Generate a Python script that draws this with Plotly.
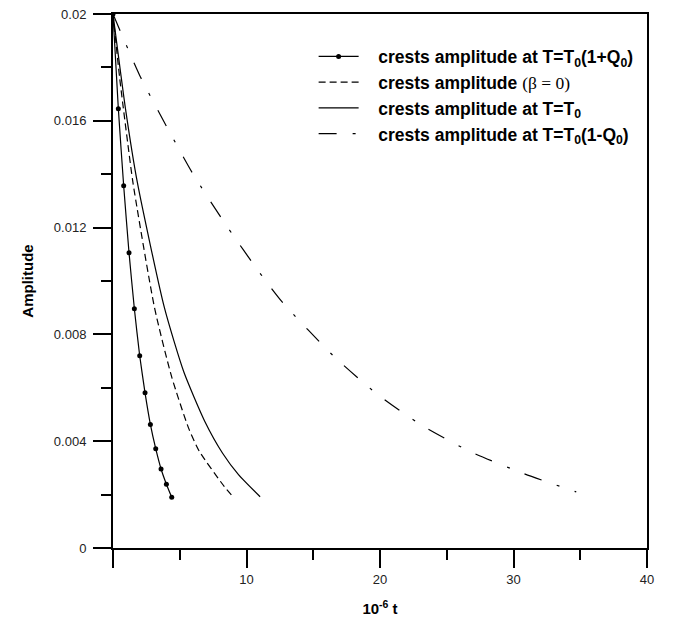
import plotly.graph_objects as go

# Crest amplitude at T = T0(1+Q0)  (dotted markers)
t_hot = [0.0, 0.4, 0.8, 1.2, 1.6, 2.0, 2.4, 2.8, 3.2, 3.6, 4.0, 4.4]
a_hot = [0.0200, 0.01645, 0.01357, 0.01106, 0.00896, 0.00720, 0.00581,
         0.00463, 0.00372, 0.00296, 0.00239, 0.00190]

# Crest amplitude (beta = 0)  (dashed)
t_beta0 = [0.0, 0.5, 1.12, 1.49, 3.11, 4.4, 5.67, 6.47, 8.34, 9.03]
a_beta0 = [0.0200, 0.0176, 0.0151, 0.0137, 0.0090, 0.0064, 0.00448, 0.00362, 0.0023, 0.0019]

# Crest amplitude at T = T0  (solid)
t_t0 = [0.0, 0.95, 1.82, 3.85, 5.3, 6.87, 8.21, 9.4, 11.02]
a_t0 = [0.0200, 0.0164, 0.0137, 0.0090, 0.0066, 0.00475, 0.00355, 0.00275, 0.00192]

# Crest amplitude at T = T0(1-Q0)  (dash-dot)
t_cold = [0.0, 2.0, 4.0, 6.0, 8.6, 11.0, 12.7, 16.5, 19.7, 23.1, 26.8, 30.7, 34.7]
a_cold = [0.0200, 0.0177, 0.0158, 0.0140, 0.0120, 0.0103, 0.0092, 0.0072,
          0.0058, 0.0046, 0.0036, 0.0028, 0.0021]

x_tickvals = [0, 10, 20, 30, 40]
x_ticktext = ["", "10", "20", "30", "40"]
y_tickvals = [0, 0.004, 0.008, 0.012, 0.016, 0.02]
y_ticktext = ["0", "0.004", "0.008", "0.012", "0.016", "0.02"]

PAD = "&nbsp;&nbsp;&nbsp;"
names = [
    PAD + "<b>crests amplitude at T=T<sub>0</sub>(1+Q<sub>0</sub>)</b>",
    PAD + "<b>crests amplitude</b> <span style='font-family:Liberation Serif, Times New Roman, serif;font-weight:normal'>(β = 0)</span>",
    PAD + "<b>crests amplitude at T=T<sub>0</sub></b>",
    PAD + "<b>crests amplitude at T=T<sub>0</sub>(1-Q<sub>0</sub>)</b>",
]

FONT = "Liberation Sans, Arial, Helvetica, sans-serif"

fig = go.Figure()
fig.add_trace(go.Scatter(x=t_hot, y=a_hot, name=names[0], mode="lines+markers",
                         line=dict(color="black", width=1.2, shape="spline", smoothing=0.5),
                         marker=dict(color="black", size=5, symbol="circle")))
fig.add_trace(go.Scatter(x=t_beta0, y=a_beta0, name=names[1], mode="lines",
                         line=dict(color="black", width=1.2, dash="7px,4px",
                                   shape="spline", smoothing=0.6)))
fig.add_trace(go.Scatter(x=t_t0, y=a_t0, name=names[2], mode="lines",
                         line=dict(color="black", width=1.2, shape="spline", smoothing=0.6)))
fig.add_trace(go.Scatter(x=t_cold, y=a_cold, name=names[3], mode="lines",
                         line=dict(color="black", width=1.2, dash="18px,16px,3px,16px",
                                   shape="spline", smoothing=0.6)))

axis_common = dict(
    showline=True, linecolor="black", linewidth=2, mirror=True,
    ticks="outside", ticklen=18, tickwidth=2, tickcolor="black",
    showgrid=False, zeroline=False, automargin=False,
    ticklabeloverflow="allow",
    tickfont=dict(family=FONT, size=13, color="#222"),
)

fig.update_xaxes(
    range=[0, 40], tickvals=x_tickvals, ticktext=x_ticktext,
    minor=dict(ticks="outside", ticklen=10, tickwidth=2, tickcolor="black", dtick=5, tick0=0),
    title=dict(text="<b>10<sup>-6</sup> t</b>", font=dict(family=FONT, size=15, color="black"),
               standoff=18),
    **axis_common,
)
fig.update_yaxes(
    range=[0, 0.02], tickvals=y_tickvals, ticktext=y_ticktext,
    minor=dict(ticks="outside", ticklen=10, tickwidth=2, tickcolor="black", dtick=0.002, tick0=0),
    title=dict(text="<b>Amplitude</b>", font=dict(family=FONT, size=15, color="black"),
               standoff=17),
    ticklabelstandoff=4,
    **axis_common,
)

fig.update_layout(
    width=668, height=611,
    margin=dict(l=105, r=29, t=6, b=71),
    paper_bgcolor="white", plot_bgcolor="white",
    showlegend=True,
    legend=dict(x=0.3757, y=0.954, xanchor="left", yanchor="top",
                font=dict(family=FONT, size=17.5, color="black"),
                bgcolor="rgba(0,0,0,0)", tracegroupgap=0, itemwidth=40),
)

fig.write_html("out.html")
